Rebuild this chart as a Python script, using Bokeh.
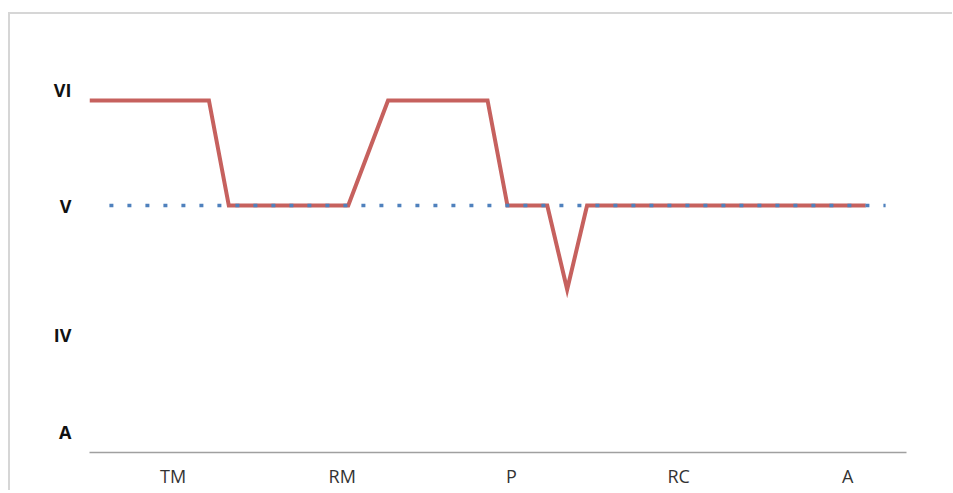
from bokeh.plotting import figure
from bokeh.models import Range1d, FixedTicker
from bokeh.embed import file_html
from bokeh.resources import INLINE

# ---- data ----
# red series: one value per step (0..39); VI=6, V=5, IV=4
red_x = list(range(40))
red_y = [6, 6, 6, 6, 6, 6, 6,
         5, 5, 5, 5, 5, 5, 5,
         5.5, 6, 6, 6, 6, 6, 6,
         5, 5, 5, 4.2,
         5, 5, 5, 5, 5, 5, 5, 5, 5, 5, 5, 5, 5, 5, 5]
# blue reference series at level V
blue_x = list(range(1, 41))
blue_y = [5] * 40

x_categories = ["TM", "RM", "P", "RC", "A"]
x_category_pos = [4.2, 12.7, 21.2, 29.6, 38.1]
y_labels = ["VI", "V", "IV", "A"]
y_label_pos = [6.1, 5.0, 3.77, 2.84]

p = figure(frame_width=817, frame_height=425, output_backend="svg",
           toolbar_location=None,
           x_range=Range1d(0, 41.05), y_range=Range1d(2.648, 6.695),
           min_border_left=79, min_border_right=46, min_border_top=13,
           min_border_bottom=10, tools="")
p.margin = (12, 0, 0, 8)
p.styles = {"border-left": "2px solid #d6d6d6", "border-top": "2px solid #d6d6d6"}

p.outline_line_color = None
p.grid.visible = False
p.background_fill_color = "white"
p.border_fill_color = "white"

p.line(red_x, red_y, line_color="#c0504d", line_width=4, line_alpha=0.9,
       line_join="miter")
p.line(blue_x, blue_y, line_color="#4f81bd", line_width=3.5, line_dash="4 14")

# x axis
p.xaxis.ticker = FixedTicker(ticks=x_category_pos)
p.xaxis.major_label_overrides = {v: t for v, t in zip(x_category_pos, x_categories)}
p.xaxis.axis_line_color = "#a0a0a0"
p.xaxis.axis_line_width = 1.5
p.xaxis.major_tick_line_color = None
p.xaxis.minor_tick_line_color = None
p.xaxis.major_label_text_font = "Open Sans"
p.xaxis.major_label_text_font_size = "18px"
p.xaxis.major_label_text_color = "#333333"
p.xaxis.major_label_standoff = 5

# y axis
p.yaxis.ticker = FixedTicker(ticks=y_label_pos)
p.yaxis.major_label_overrides = {v: t for v, t in zip(y_label_pos, y_labels)}
p.yaxis.axis_line_color = None
p.yaxis.major_tick_line_color = None
p.yaxis.minor_tick_line_color = None
p.yaxis.major_label_text_font = "Open Sans"
p.yaxis.major_label_text_font_style = "bold"
p.yaxis.major_label_text_font_size = "18px"
p.yaxis.major_label_text_color = "#111111"
p.yaxis.major_label_standoff = 12

open("out.html", "w").write(file_html(p, INLINE))
